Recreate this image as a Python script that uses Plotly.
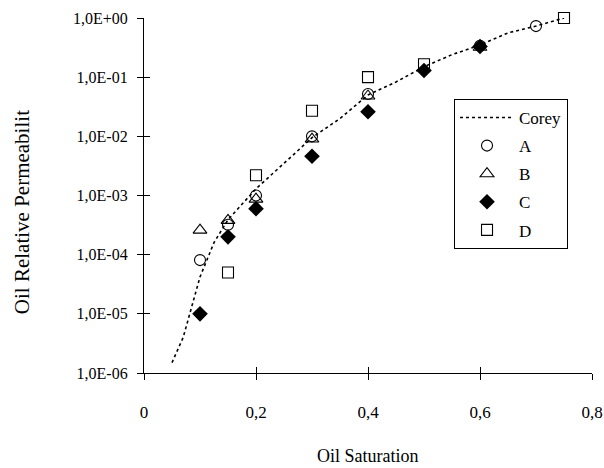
import plotly.graph_objects as go

# Oil saturation vs. oil relative permeability, four samples plus a Corey fit
sat_corey = [0.05, 0.07, 0.10, 0.125, 0.15, 0.20, 0.25, 0.30, 0.35, 0.40, 0.45, 0.50, 0.55, 0.60, 0.65, 0.70, 0.75]
kro_corey = [1.5e-6, 4.0e-6, 4.2e-5, 1.6e-4, 3.9e-4, 1.3e-3, 3.5e-3, 9.5e-3, 2.0e-2, 5.0e-2, 8.3e-2, 0.15, 0.24, 0.35, 0.56, 0.73, 1.0]

sat_A = [0.10, 0.15, 0.20, 0.30, 0.40, 0.60, 0.70]
kro_A = [8.1e-5, 3.2e-4, 1.0e-3, 1.0e-2, 5.2e-2, 0.34, 0.73]

sat_B = [0.10, 0.15, 0.20, 0.30, 0.40, 0.60]
kro_B = [2.6e-4, 3.8e-4, 8.7e-4, 9.0e-3, 4.8e-2, 0.32]

sat_C = [0.10, 0.15, 0.20, 0.30, 0.40, 0.50, 0.60]
kro_C = [1.0e-5, 2.0e-4, 6.0e-4, 4.6e-3, 2.6e-2, 0.13, 0.33]

sat_D = [0.15, 0.20, 0.30, 0.40, 0.50, 0.75]
kro_D = [5.0e-5, 2.2e-3, 2.7e-2, 0.10, 0.165, 1.0]

x_ticks = [0, 0.2, 0.4, 0.6, 0.8]
x_ticktext = ["0", "0,2", "0,4", "0,6", "0,8"]
y_ticks = [1e-6, 1e-5, 1e-4, 1e-3, 1e-2, 1e-1, 1]
y_ticktext = ["1,0E-06", "1,0E-05", "1,0E-04", "1,0E-03", "1,0E-02", "1,0E-01", "1,0E+00"]

FONT = "Liberation Serif"

fig = go.Figure()
fig.add_trace(go.Scatter(
    x=sat_corey, y=kro_corey, mode="lines", name="Corey", legendgroup="g0",
    line=dict(color="black", width=1.6, dash="3px,3px"), cliponaxis=False))
fig.add_trace(go.Scatter(
    x=sat_A, y=kro_A, mode="markers", name="A", legendgroup="g1", cliponaxis=False,
    marker=dict(symbol="circle-open", size=11, color="black", line=dict(width=1.1))))
fig.add_trace(go.Scatter(
    x=sat_B, y=kro_B, mode="markers", name="B", legendgroup="g2", cliponaxis=False,
    marker=dict(symbol="triangle-up-open", size=12, color="black", line=dict(width=1.1))))
fig.add_trace(go.Scatter(
    x=sat_C, y=kro_C, mode="markers", name="C", legendgroup="g3", cliponaxis=False,
    marker=dict(symbol="diamond", size=12, color="black", line=dict(width=0))))
fig.add_trace(go.Scatter(
    x=sat_D, y=kro_D, mode="markers", name="D", legendgroup="g4", cliponaxis=False,
    marker=dict(symbol="square-open", size=11, color="black", line=dict(width=1.1))))

# invisible trace holding the overlay axes that draw the inner half of the tick marks
fig.add_trace(go.Scatter(x=[None], y=[None], xaxis="x2", yaxis="y2",
                         showlegend=False, hoverinfo="skip"))

axis_common = dict(showgrid=False, zeroline=False, linecolor="black", linewidth=1.2,
                   tickcolor="black", tickwidth=1.2, ticklen=6, automargin=False)

fig.update_layout(
    width=604, height=468,
    margin=dict(l=144, r=12, t=18, b=95),
    paper_bgcolor="white", plot_bgcolor="white",
    font=dict(family=FONT, color="black"),
    showlegend=True,
    xaxis=dict(range=[0, 0.8], tickvals=x_ticks, ticktext=x_ticktext, ticks="outside",
               showline=True, ticklabelstandoff=17,
               tickfont=dict(size=17, family=FONT), **axis_common),
    yaxis=dict(type="log", range=[-6, 0], tickvals=y_ticks, ticktext=y_ticktext,
               ticks="outside", showline=True, ticklabelstandoff=6,
               tickfont=dict(size=16, family=FONT), **axis_common),
    xaxis2=dict(overlaying="x", anchor="y2", range=[0, 0.8], tickvals=x_ticks,
                ticks="inside", showticklabels=False, showline=False, **axis_common),
    yaxis2=dict(overlaying="y", anchor="x2", type="log", range=[-6, 0], tickvals=y_ticks,
                ticks="inside", showticklabels=False, showline=False, **axis_common),
    legend=dict(x=0.692, y=0.772, xanchor="left", yanchor="top",
                bgcolor="white", bordercolor="black", borderwidth=1,
                font=dict(size=17, family=FONT), itemwidth=54,
                tracegroupgap=3, traceorder="grouped"),
    annotations=[
        dict(text="Oil Saturation", x=0.5, y=-0.234, xref="paper", yref="paper",
             xanchor="center", yanchor="middle", showarrow=False,
             font=dict(size=18, family=FONT)),
        dict(text="Oil Relative Permeabilit", x=-0.272, y=0.4535, xref="paper", yref="paper",
             xanchor="center", yanchor="middle", showarrow=False, textangle=-90,
             font=dict(size=21, family=FONT)),
    ],
)

fig.write_html("out.html")
